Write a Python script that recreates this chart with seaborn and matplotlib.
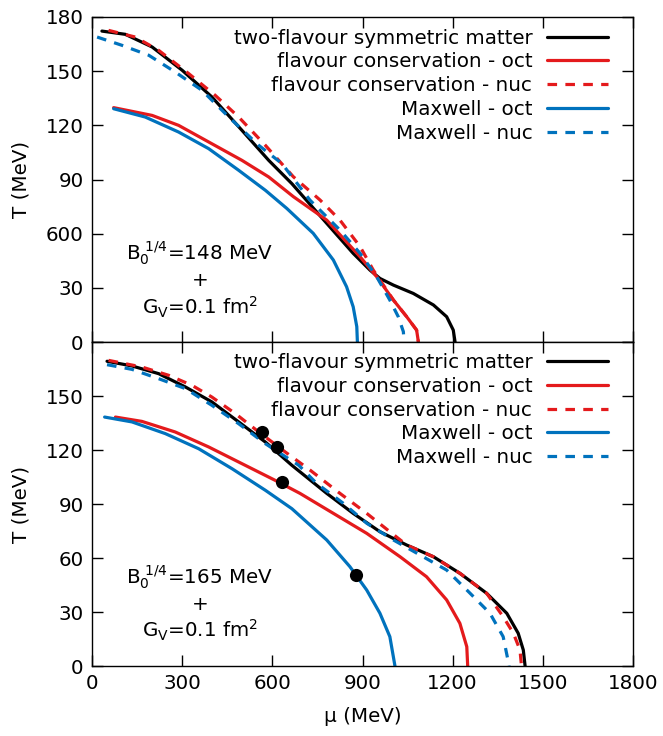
import numpy as np
import pandas as pd
import matplotlib
matplotlib.use("Agg")
import matplotlib.pyplot as plt
import seaborn as sns

# ---------------- data ----------------
# top panel: B0^(1/4)=148 MeV
top_sym_mu = [33, 111, 200, 300, 399, 499, 588, 665, 781, 869, 925, 958, 1003, 1069, 1136, 1180, 1202, 1208]
top_sym_T = [172.2, 170.4, 163.4, 150.5, 135.7, 117.2, 100.6, 87.7, 65.7, 49.1, 39.8, 35.2, 31.5, 26.9, 20.5, 14, 6.6, 0]

top_fc_oct_mu = [72, 200, 288, 388, 499, 588, 670, 781, 836, 892, 947, 1003, 1047, 1080, 1086]
top_fc_oct_T = [129.8, 125.5, 120, 110.8, 100.6, 91.4, 80.5, 67.5, 57.4, 47.2, 36.2, 23.2, 14, 6.6, 0]

top_fc_nuc_mu = [55, 144, 222, 322, 410, 488, 577, 670, 759, 825, 892, 936, 1003, 1047, 1080, 1086]
top_fc_nuc_T = [172.6, 168.9, 161.5, 148.6, 136.6, 124.6, 108.9, 91.5, 78.6, 67.5, 52.8, 39.8, 23.2, 14, 6.6, 0]

top_mx_oct_mu = [72, 177, 288, 388, 488, 577, 648, 736, 803, 847, 869, 881, 883]
top_mx_oct_T = [129.2, 124.6, 116.3, 107.1, 95.1, 84, 74, 60.2, 45.4, 30.6, 19.5, 8.5, 0]

top_mx_nuc_mu = [17, 100, 189, 277, 366, 455, 555, 632, 725, 825, 892, 947, 991, 1019, 1036, 1038]
top_mx_nuc_T = [168.9, 164.3, 158.8, 149.5, 139.4, 124.6, 108.9, 98.8, 78.6, 62, 49.1, 36.2, 23.2, 14, 5.7, 0]

# bottom panel: B0^(1/4)=165 MeV
bot_sym_mu = [50, 133, 222, 311, 399, 488, 577, 665, 781, 869, 958, 1047, 1136, 1224, 1313, 1380, 1418, 1435, 1441]
bot_sym_T = [169.3, 166.7, 162.4, 155, 146.7, 135.6, 124.4, 111.5, 95.9, 84.8, 74.6, 67.2, 60.7, 51.5, 40.4, 29.3, 18.2, 8.9, 0]

bot_fc_oct_mu = [78, 166, 277, 388, 499, 610, 692, 803, 914, 1025, 1113, 1180, 1224, 1247, 1250]
bot_fc_oct_T = [138.3, 135.9, 130, 121.7, 112.4, 103.1, 95.9, 84.8, 73.7, 60.7, 49.6, 36.7, 23.7, 10.7, 0]

bot_fc_nuc_mu = [55, 166, 255, 333, 399, 477, 555, 643, 725, 825, 914, 991, 1047, 1136, 1224, 1313, 1368, 1402, 1424, 1429]
bot_fc_nuc_T = [169.8, 166.1, 161.5, 155.9, 149.4, 140.2, 130, 118.9, 108.9, 95.9, 84.8, 74.6, 67.2, 60.7, 51.5, 40.4, 27.4, 18.2, 8.9, 0]

bot_mx_oct_mu = [42, 133, 244, 355, 466, 577, 665, 781, 858, 914, 958, 991, 1008]
bot_mx_oct_T = [138.3, 135.6, 129.1, 120.7, 109.6, 97.6, 87.4, 70, 55.2, 42.2, 29.3, 16.3, 0]

bot_mx_nuc_mu = [50, 133, 222, 311, 399, 488, 577, 688, 747, 836, 914, 1003, 1091, 1180, 1258, 1324, 1368, 1388]
bot_mx_nuc_T = [167.4, 164.8, 159.6, 154.1, 144.8, 134.6, 123.5, 111.5, 101.5, 90.4, 79.3, 70, 61.7, 53.3, 40.4, 29.3, 16.3, 0]

# critical points (bottom panel)
dots_mu = [566, 616, 632, 878]
dots_T = [130, 121.7, 102.2, 50.6]

labels = ["two-flavour symmetric matter", "flavour conservation - oct",
          "flavour conservation - nuc", "Maxwell - oct", "Maxwell - nuc"]
x_ticks = [0, 300, 600, 900, 1200, 1500, 1800]
y_ticks = [0, 30, 60, 90, 120, 150, 180]
top_ytick_labels = ["0", "30", "600", "90", "120", "150", "180"]
bot_ytick_labels = ["0", "30", "60", "90", "120", "150", ""]
top_note = ["$\\mathregular{B_0^{\\ 1/4}}$=148 MeV", "+", "$\\mathregular{G_V}$=0.1 fm$\\mathregular{^2}$"]
bot_note = ["$\\mathregular{B_0^{\\ 1/4}}$=165 MeV", "+", "$\\mathregular{G_V}$=0.1 fm$\\mathregular{^2}$"]

# ---------------- styling ----------------
sns.set_theme(style="ticks")
plt.rcParams["font.family"] = ["DejaVu Sans"]
plt.rcParams["text.color"] = "black"
plt.rcParams["axes.labelcolor"] = "black"
plt.rcParams["xtick.color"] = "black"
plt.rcParams["ytick.color"] = "black"
FS = 14.3
BLACK = "#000000"
RED = "#e41a1c"
BLUE = "#0072bd"
LW = 2.3
DASH = (0, (3.0, 2.6))
styles = [(BLACK, "-"), (RED, "-"), (RED, DASH), (BLUE, "-"), (BLUE, DASH)]

fig = plt.figure(figsize=(6.63, 7.36), dpi=100)
W, H = 663, 736
ax_top = fig.add_axes([92 / W, (H - 342) / H, 541 / W, 325 / H])
ax_bot = fig.add_axes([92 / W, (H - 666) / H, 541 / W, 324 / H])


def draw(ax, series, ylabels, note, note_y, show_x, leg_y):
    for (mu, T), (c, ls), lab in zip(series, styles, labels):
        df = pd.DataFrame({"mu": mu, "T": T})
        sns.lineplot(data=df, x="mu", y="T", ax=ax, sort=False, estimator=None,
                     color=c, lw=LW, label=lab)
        ax.lines[-1].set_linestyle(ls)
    ax.set_xlim(0, 1800)
    ax.set_ylim(0, 180)
    ax.set_xticks(x_ticks)
    ax.set_yticks(y_ticks)
    ax.set_yticklabels(ylabels)
    if show_x:
        ax.set_xticklabels([str(v) for v in x_ticks])
        ax.set_xlabel("μ (MeV)", fontsize=FS, labelpad=10)
    else:
        ax.set_xticklabels([])
        ax.set_xlabel("")
    ax.set_ylabel("T (MeV)", fontsize=FS, labelpad=11)
    ax.tick_params(direction="in", length=8, width=1, top=True, right=True,
                   labelsize=FS, pad=6, color="black", labelcolor="black")
    for s in ax.spines.values():
        s.set_visible(True)
        s.set_color("black")
        s.set_linewidth(1.0)
    leg = ax.legend(loc="upper right", frameon=False, fontsize=FS, markerfirst=False,
                    handlelength=3.05, handletextpad=0.75, labelspacing=0.24,
                    borderaxespad=0.3, bbox_to_anchor=(0.979, leg_y))
    for t in leg.get_texts():
        t.set_ha("right")
        t.set_color("black")
    for t, yy in zip(note, note_y):
        ax.text(359, yy, t, fontsize=FS, ha="center", va="center", color="black")


top_series = [(top_sym_mu, top_sym_T), (top_fc_oct_mu, top_fc_oct_T), (top_fc_nuc_mu, top_fc_nuc_T),
              (top_mx_oct_mu, top_mx_oct_T), (top_mx_nuc_mu, top_mx_nuc_T)]
bot_series = [(bot_sym_mu, bot_sym_T), (bot_fc_oct_mu, bot_fc_oct_T), (bot_fc_nuc_mu, bot_fc_nuc_T),
              (bot_mx_oct_mu, bot_mx_oct_T), (bot_mx_nuc_mu, bot_mx_nuc_T)]

draw(ax_top, top_series, top_ytick_labels, top_note, [49.3, 34.3, 19.4], False, 1.007)
draw(ax_bot, bot_series, bot_ytick_labels, bot_note, [49.4, 34.4, 20], True, 1.009)

sns.scatterplot(x=dots_mu, y=dots_T, ax=ax_bot, color="black", s=90, zorder=5,
                edgecolor="black", linewidth=0, legend=False)

fig.savefig("out.png", dpi=100)
